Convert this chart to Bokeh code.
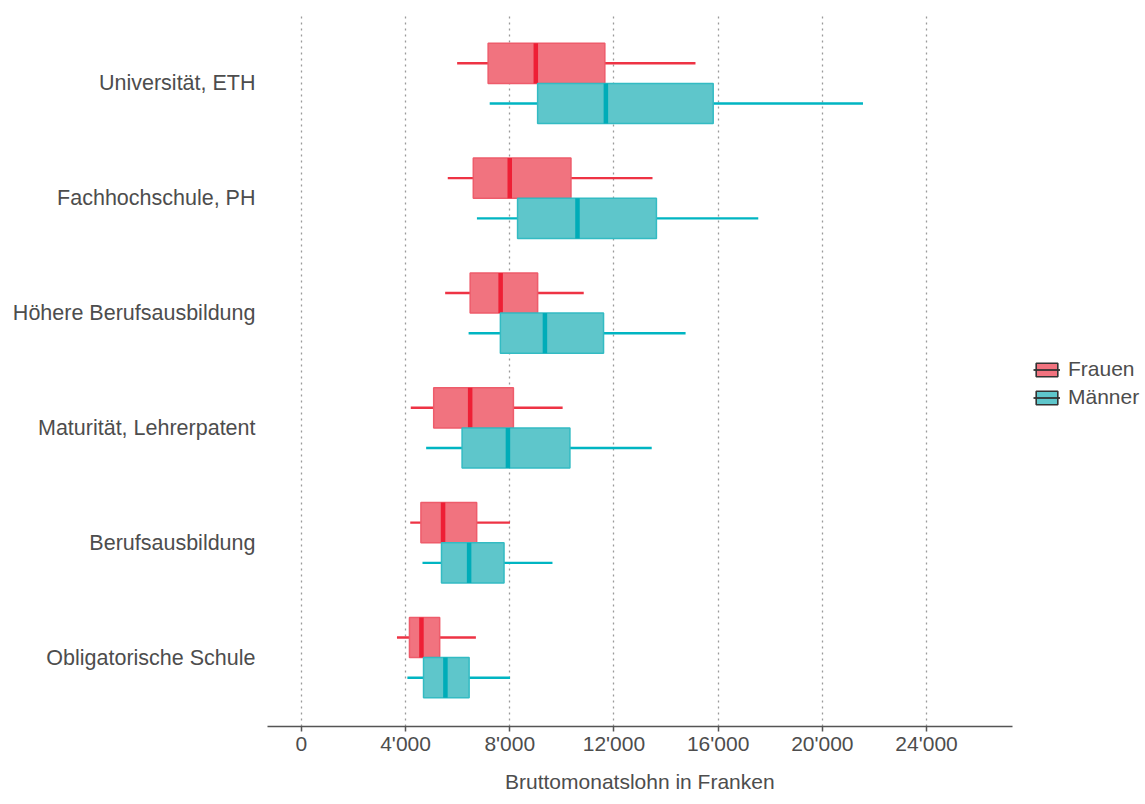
from bokeh.plotting import figure
from bokeh.models import ColumnDataSource, FixedTicker, Legend, LegendItem, Range1d, Title
from bokeh.embed import file_html
from bokeh.resources import INLINE

# ---------------- data ----------------
categories = ["Universität, ETH", "Fachhochschule, PH", "Höhere Berufsausbildung",
              "Maturität, Lehrerpatent", "Berufsausbildung", "Obligatorische Schule"]

frauen_low = [5980, 5620, 5520, 4200, 4180, 3670]
frauen_q1 = [7170, 6600, 6480, 5080, 4590, 4150]
frauen_med = [9000, 8000, 7650, 6480, 5440, 4610]
frauen_q3 = [11650, 10350, 9070, 8140, 6730, 5310]
frauen_high = [15130, 13480, 10840, 10030, 8010, 6700]

maenner_low = [7230, 6740, 6420, 4790, 4650, 4070]
maenner_q1 = [9070, 8300, 7640, 6170, 5380, 4690]
maenner_med = [11690, 10600, 9350, 7930, 6440, 5530]
maenner_q3 = [15810, 13630, 11600, 10310, 7780, 6440]
maenner_high = [21560, 17540, 14750, 13450, 9640, 8010]

series_names = ["Frauen", "Männer"]
x_ticks = [0, 4000, 8000, 12000, 16000, 20000, 24000]
x_tick_labels = ["0", "4'000", "8'000", "12'000", "16'000", "20'000", "24'000"]
x_title = "Bruttomonatslohn in Franken"

# ---------------- styling ----------------
FONT = "Liberation Sans"
TXT = "#4D4D4D"
BOX_H = 0.35
NAN = float("nan")
styles = {
    "Frauen": dict(fill="#F1737F", line="#EE5C6B", med="#EE1F35", whisk="#EE3344", off=BOX_H / 2),
    "Männer": dict(fill="#5EC6CB", line="#33BBC3", med="#00ACB8", whisk="#00B5C2", off=-BOX_H / 2),
}

n = len(categories)
pos = [n - i for i in range(n)]

W, H = 1145, 804
BL, BR, BT, BB = 267, 0, 14, 78
AX_LO, AX_HI = -1300, 27300          # visible axis extent
AXIS_PX = 745                          # pixel length of the axis line
frame_w = W - BL - BR
x_end = AX_LO + (AX_HI - AX_LO) * frame_w / AXIS_PX

p = figure(width=W, height=H, output_backend="svg", toolbar_location=None,
           x_range=Range1d(AX_LO, x_end), y_range=Range1d(0.4, 6.6),
           min_border_left=BL, min_border_right=BR, min_border_top=BT, min_border_bottom=BB)
p.outline_line_color = None
p.background_fill_color = "white"
p.border_fill_color = "white"

data = {
    "Frauen": (frauen_low, frauen_q1, frauen_med, frauen_q3, frauen_high),
    "Männer": (maenner_low, maenner_q1, maenner_med, maenner_q3, maenner_high),
}

legend_items = []
for name in series_names:
    lo, q1, med, q3, hi = data[name]
    st = styles[name]
    y = [v + st["off"] for v in pos]
    src = ColumnDataSource(dict(y=y, y0=[v - BOX_H / 2 for v in y], y1=[v + BOX_H / 2 for v in y],
                                lo=lo, q1=q1, med=med, q3=q3, hi=hi))
    p.segment(x0="lo", y0="y", x1="q1", y1="y", source=src, line_color=st["whisk"], line_width=2.4)
    p.segment(x0="q3", y0="y", x1="hi", y1="y", source=src, line_color=st["whisk"], line_width=2.4)
    p.hbar(y="y", left="q1", right="q3", height=BOX_H, source=src,
           fill_color=st["fill"], line_color=st["line"], line_width=1.5)
    p.segment(x0="med", y0="y0", x1="med", y1="y1", source=src, line_color=st["med"], line_width=4.5)

    # legend key renderers (undrawable NaN rows, only used for the key)
    dummy = ColumnDataSource(dict(y=[NAN], left=[NAN], right=[NAN], x0=[NAN], x1=[NAN], y0=[NAN], y1=[NAN]))
    r_box = p.hbar(y="y", left="left", right="right", height=BOX_H, source=dummy,
                   fill_color=st["fill"], line_color="#333333", line_width=1.6)
    r_mid = p.segment(x0="x0", y0="y0", x1="x1", y1="y1", source=dummy,
                      line_color="#333333", line_width=1.8)
    legend_items.append(LegendItem(label=name, renderers=[r_box, r_mid]))

legend = Legend(items=legend_items, location=(AXIS_PX + 21, 317), orientation="vertical",
                border_line_color=None, background_fill_alpha=0,
                padding=0, margin=0, spacing=4,
                glyph_width=27, glyph_height=17, label_height=24, label_standoff=8,
                label_text_font=FONT, label_text_font_size="21px", label_text_color=TXT)
p.add_layout(legend)

# x axis
p.xaxis.bounds = (AX_LO, AX_HI)
p.xaxis.ticker = FixedTicker(ticks=x_ticks)
p.xaxis.major_label_overrides = {t: l for t, l in zip(x_ticks, x_tick_labels)}
p.xaxis.minor_tick_line_color = None
p.xaxis.major_tick_in = 0
p.xaxis.major_tick_out = 5
p.xaxis.major_tick_line_color = "#555555"
p.xaxis.major_tick_line_width = 1.5
p.xaxis.axis_line_color = "#555555"
p.xaxis.axis_line_width = 1.5
p.xaxis.major_label_text_font = FONT
p.xaxis.major_label_text_font_size = "21px"
p.xaxis.major_label_text_color = TXT
p.xaxis.major_label_standoff = 0

# x axis title, centred under the visible axis line (not the full frame)
title_w = 270
x_title_obj = Title(text=x_title, align="left", offset=(AXIS_PX - title_w) / 2,
                    text_font=FONT, text_font_size="21px", text_font_style="normal",
                    text_color=TXT, standoff=20)
p.add_layout(x_title_obj, "below")

# y axis
p.yaxis.ticker = FixedTicker(ticks=pos)
p.yaxis.major_label_overrides = {v: c for v, c in zip(pos, categories)}
p.yaxis.axis_line_color = None
p.yaxis.major_tick_line_color = None
p.yaxis.minor_tick_line_color = None
p.yaxis.major_label_text_font = FONT
p.yaxis.major_label_text_font_size = "21.5px"
p.yaxis.major_label_text_color = TXT
p.yaxis.major_label_standoff = 6

# grid
p.ygrid.grid_line_color = None
p.xgrid.ticker = FixedTicker(ticks=x_ticks)
p.xgrid.grid_line_color = "#9A9A9A"
p.xgrid.grid_line_width = 1.3
p.xgrid.grid_line_dash = "2 4"

open("out.html", "w").write(file_html(p, INLINE))
